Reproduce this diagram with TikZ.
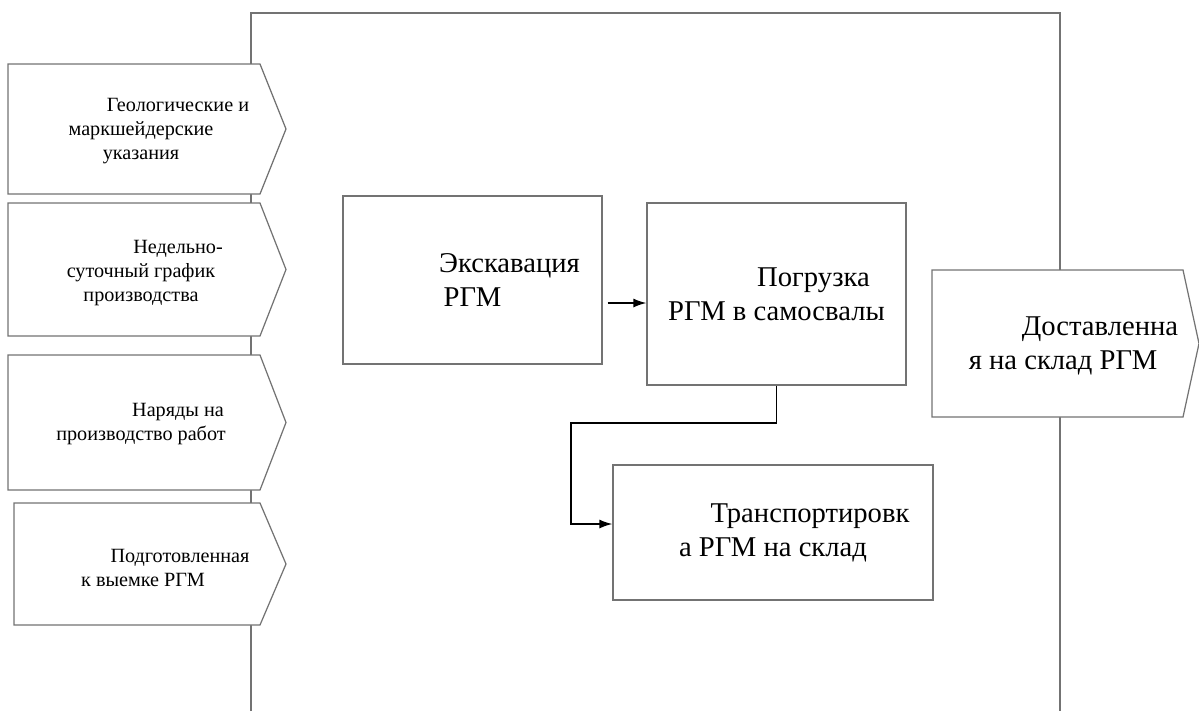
\documentclass[tikz,border=0pt]{standalone}
\usepackage{fontspec}
\setmainfont{Liberation Serif}
\newfontfamily\serifru{Liberation Serif}
\usetikzlibrary{arrows.meta}
\definecolor{edgegray}{gray}{0.45}
\newcommand{\firstind}{\hspace*{1.48cm}}

\begin{document}
\begin{tikzpicture}[x=0.02cm,y=-0.02cm,
    frame/.style={draw=edgegray,line width=0.8pt},
    inbox/.style={draw=edgegray,fill=white,line width=0.7pt},
    inlabel/.style={align=center,font=\serifru\fontsize{11.5}{13.7}\selectfont},
    biglabel/.style={align=center,font=\serifru\fontsize{16.3}{19.4}\selectfont},
    stage/.style={biglabel,draw=edgegray,line width=0.7pt},
    conn/.style={draw,line width=0.9pt,-{Latex[length=0.26cm,width=0.18cm]}}]
  \useasboundingbox (0,0) rectangle (1199,711);
  \draw[frame] (251,711) |- (1060,13) -- (1060,711);
  % inputs
  \filldraw[inbox] (8,64) -- (260,64) -- (286,129) -- (260,194) -- (8,194) -- cycle;
  \filldraw[inbox] (8,203) -- (260,203) -- (286,269.5) -- (260,336) -- (8,336) -- cycle;
  \filldraw[inbox] (8,355) -- (260,355) -- (286,422.5) -- (260,490) -- (8,490) -- cycle;
  \filldraw[inbox] (14,503) -- (260,503) -- (286,564) -- (260,625) -- (14,625) -- cycle;
  \node (geo) [inlabel] at (141,131) {\firstind Геологические и\\маркшейдерские\\указания};
  \node (plan) [inlabel] at (141,273) {\firstind Недельно-\\суточный график\\производства};
  \node (orders) [inlabel] at (141,424) {\firstind Наряды на\\производство работ};
  \node (ready) [inlabel] at (143,568) {\firstind Подготовленная\\к выемке РГМ};
  % output
  \filldraw[inbox] (932,270) -- (1183,270) -- (1199,343.5) -- (1183,417) -- (932,417) -- cycle;
  \node (deliv) [biglabel] at (1063,346) {\firstind Доставленна\\я на склад РГМ};
  % stages
  \node (excav) [stage,minimum width=5.18cm,minimum height=3.36cm] at (472.5,280) {\firstind Экскавация\\РГМ};
  \node (load) [stage,minimum width=5.18cm,minimum height=3.64cm] at (776.5,294) {\firstind Погрузка\\РГМ в самосвалы};
  \node (transp) [stage,minimum width=6.4cm,minimum height=2.7cm] at (773,532.5) {\firstind Транспортировк\\а РГМ на склад};
  \coordinate (lvl) at (0,303);
  \draw[conn,shorten <=0.1cm] (excav.east |- lvl) -- (load.west |- lvl);
  \coordinate (bend) at (571,423);
  \coordinate (drop) at (571,524);
  \draw[conn] (load.south) |- (bend) -- (drop) -- (transp.west |- drop);
\end{tikzpicture}
\end{document}
